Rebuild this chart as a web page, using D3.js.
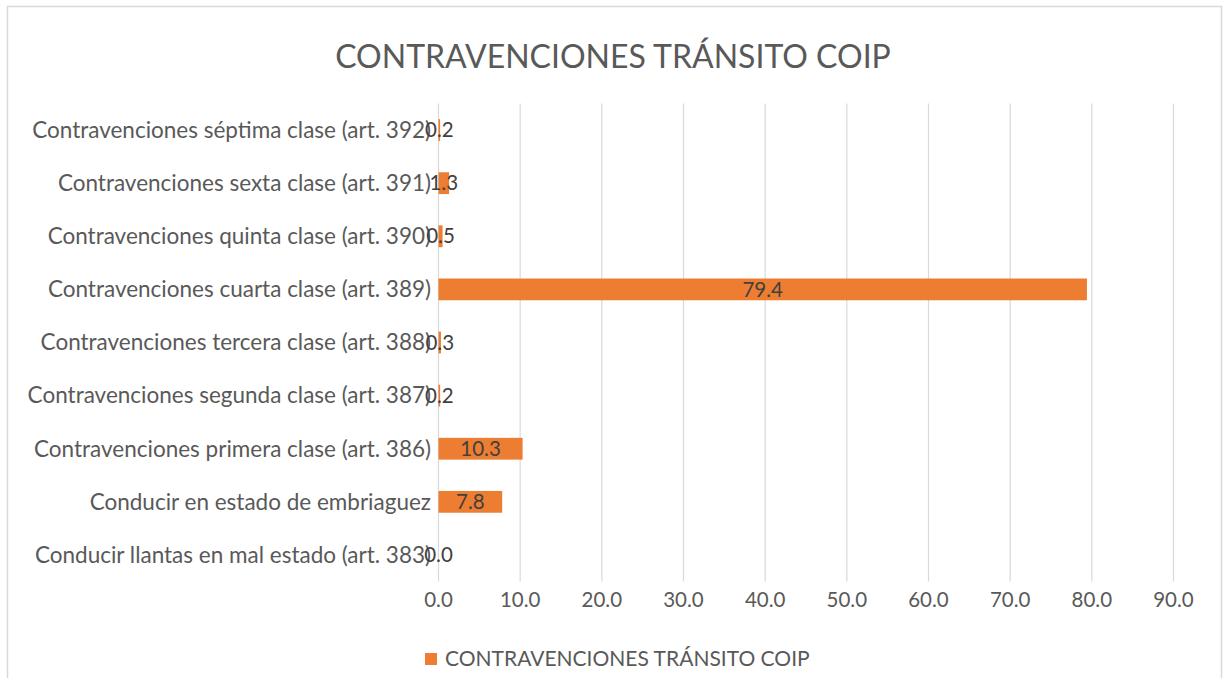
<!DOCTYPE html>
<html>
<head>
<meta charset="utf-8">
<script src="https://cdn.jsdelivr.net/npm/d3@7"></script>
<style>
  body { margin: 0; background: #fff; }
  svg text { font-family: Lato, "Open Sans", sans-serif; fill: #595959; }
</style>
</head>
<body>
<div id="chart"></div>
<script>
// categories bottom to top, as in the picture
var categories = [
  "Conducir llantas en mal estado (art. 383)",
  "Conducir en estado de embriaguez",
  "Contravenciones primera clase (art. 386)",
  "Contravenciones segunda clase (art. 387)",
  "Contravenciones tercera clase (art. 388)",
  "Contravenciones cuarta clase (art. 389)",
  "Contravenciones quinta clase (art. 390)",
  "Contravenciones sexta clase (art. 391)",
  "Contravenciones séptima clase (art. 392)"
];
var values = [0.0, 7.8, 10.3, 0.2, 0.3, 79.4, 0.5, 1.3, 0.2];
var ticks = [0, 10, 20, 30, 40, 50, 60, 70, 80, 90];
var seriesName = "CONTRAVENCIONES TRÁNSITO COIP";

var width = 1225;
var height = 678;
var margin = {top: 103.5, right: 50, bottom: 96.5, left: 438.5};

var svg = d3.select("#chart")
  .append("svg")
  .attr("width", width)
  .attr("height", height);

// outer chart border
svg.append("rect")
  .attr("x", 7.5).attr("y", 6.5)
  .attr("width", 1214).attr("height", 700)
  .attr("fill", "#fff")
  .attr("stroke", "#d9d9d9")
  .attr("stroke-width", 1.5);

var x = d3.scaleLinear()
  .domain([0, 90])
  .range([margin.left, margin.left + 735]);

var y = d3.scaleBand()
  .domain(categories.slice().reverse())
  .range([margin.top, height - margin.bottom])
  .paddingInner(0.59)
  .paddingOuter(0.295);

// gridlines
svg.append("g")
  .selectAll("line")
  .data(ticks)
  .enter()
  .append("line")
    .attr("x1", function(d) { return x(d); })
    .attr("x2", function(d) { return x(d); })
    .attr("y1", margin.top)
    .attr("y2", height - margin.bottom)
    .attr("stroke", "#d9d9d9")
    .attr("stroke-width", 1.2);

// tick labels
svg.append("g")
  .selectAll("text")
  .data(ticks)
  .enter()
  .append("text")
    .attr("x", function(d) { return x(d); })
    .attr("y", 607)
    .attr("text-anchor", "middle")
    .style("font-size", "20.5px")
    .text(function(d) { return d.toFixed(1); });

// bars
svg.append("g")
  .selectAll("rect")
  .data(values)
  .enter()
  .append("rect")
    .attr("x", x(0))
    .attr("y", function(d, i) { return y(categories[i]); })
    .attr("width", function(d) { return x(d) - x(0); })
    .attr("height", y.bandwidth())
    .attr("fill", "#ed7d31");

// category labels
svg.append("g")
  .selectAll("text")
  .data(categories)
  .enter()
  .append("text")
    .attr("x", 431)
    .attr("y", function(d) { return y(d) + y.bandwidth() / 2; })
    .attr("dy", "0.35em")
    .attr("text-anchor", "end")
    .style("font-size", "22.5px")
    .text(function(d) { return d; });

// value labels, centred on bars
svg.append("g")
  .selectAll("text")
  .data(values)
  .enter()
  .append("text")
    .attr("x", function(d) { return (x(0) + x(d)) / 2; })
    .attr("y", function(d, i) { return y(categories[i]) + y.bandwidth() / 2; })
    .attr("dy", "0.35em")
    .attr("text-anchor", "middle")
    .style("font-size", "20.5px")
    .style("fill", "#404040")
    .text(function(d) { return d.toFixed(1); });

// title
svg.append("text")
  .attr("x", 613)
  .attr("y", 68)
  .attr("text-anchor", "middle")
  .style("font-size", "32px")
  .text(seriesName);

// legend
var legend = svg.append("g");
legend.append("rect")
  .attr("x", 425).attr("y", 653)
  .attr("width", 12).attr("height", 12)
  .attr("fill", "#ed7d31");
legend.append("text")
  .attr("x", 445)
  .attr("y", 659)
  .attr("dy", "0.35em")
  .style("font-size", "21px")
  .text(seriesName);
</script>
</body>
</html>
